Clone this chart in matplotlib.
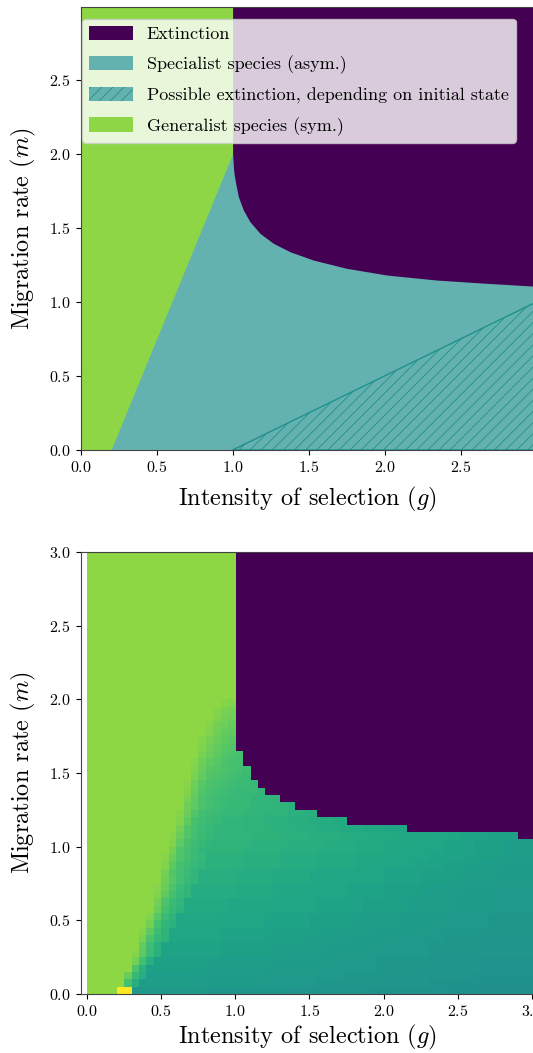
import numpy as np
import matplotlib
matplotlib.use("Agg")
import matplotlib.pyplot as plt
from matplotlib.patches import Patch

plt.rcParams['font.family'] = ['cmr10', 'DejaVu Serif']
plt.rcParams['mathtext.fontset'] = 'cm'
plt.rcParams['axes.unicode_minus'] = False
plt.rcParams['axes.formatter.use_mathtext'] = True
plt.rcParams['hatch.linewidth'] = 0.6

# ---------------- data: top panel (analytical regions) ----------------
gen_boundary_g = [0.2, 1.0]          # generalist / specialist border
gen_boundary_m = [0.0, 2.0]
ext_curve_g = [1.0, 1.005, 1.009, 1.020, 1.038, 1.071, 1.114, 1.180, 1.268,
               1.378, 1.531, 1.751, 2.014, 2.343, 2.672, 3.0]
ext_curve_m = [2.0, 1.912, 1.867, 1.800, 1.709, 1.619, 1.541, 1.462, 1.395,
               1.338, 1.282, 1.226, 1.181, 1.147, 1.125, 1.105]
bistable_g = [1.0, 3.0]               # possible extinction region
bistable_m = [0.0, 1.0]
legend_labels = ["Extinction", "Specialist species (asym.)",
                 "Possible extinction, depending on initial state",
                 "Generalist species (sym.)"]

# ---------------- data: bottom panel (simulation grid) ----------------
# cell size 0.05 x 0.05 over g,m in [0,3]; row 0 = m in [0,0.05]
# 'G' generalist, 'P' extinction, 'Y' max, other chars = specialist level
level_chars = "0123456789abcdefghijklmnopqrstuvwxy"
heat_rows = [
    "GGGGYY" + "5"*10 + "4"*11 + "3"*11 + "2"*11 + "1"*11,
    "G"*5 + "me" + "7"*8 + "6"*8 + "5"*8 + "4"*8 + "3"*7 + "2"*7 + "1"*7,
    "G"*5 + "sie" + "7"*9 + "6"*9 + "5"*9 + "4"*9 + "3"*8 + "2"*8,
    "G"*6 + "nf" + "8"*8 + "7"*8 + "6"*8 + "5"*7 + "4"*7 + "3"*7 + "2"*7,
    "G"*6 + "ule" + "8"*8 + "7"*8 + "6"*7 + "5"*7 + "4"*7 + "3"*7 + "2"*7,
    "G"*6 + "xqjf" + "9"*8 + "8"*7 + "7"*7 + "6"*7 + "5"*7 + "4"*7 + "3"*7,
    "G"*7 + "rkf" + "9"*8 + "8"*7 + "7"*7 + "6"*7 + "5"*7 + "4"*7 + "3"*7,
    "G"*7 + "vnig" + "a"*7 + "9"*6 + "8"*6 + "7"*6 + "6"*6 + "5"*6 + "4"*6 + "3"*6,
    "G"*7 + "xqkg" + "a"*7 + "9"*7 + "8"*7 + "7"*7 + "6"*7 + "5"*7 + "4"*7,
    "G"*8 + "umhf" + "b"*6 + "a"*6 + "9"*6 + "8"*6 + "7"*6 + "6"*6 + "5"*6 + "4"*6,
    "G"*8 + "wpjg" + "b"*6 + "a"*6 + "9"*6 + "8"*6 + "7"*6 + "6"*6 + "5"*6 + "4"*6,
    "G"*8 + "ysmig" + "c"*6 + "b"*6 + "a"*6 + "9"*6 + "8"*6 + "7"*6 + "6"*6 + "5"*5,
    "G"*9 + "unjh" + "c"*6 + "b"*6 + "a"*6 + "9"*6 + "8"*6 + "7"*6 + "6"*6 + "5"*5,
    "G"*9 + "wqlih" + "d"*6 + "c"*5 + "b"*5 + "a"*5 + "9"*5 + "8"*5 + "7"*5 + "6"*5 + "5"*5,
    "G"*9 + "xsnjh" + "d"*6 + "c"*5 + "b"*5 + "a"*5 + "9"*5 + "8"*5 + "7"*5 + "6"*5 + "5"*5,
    "G"*9 + "ytplih" + "e"*5 + "d"*5 + "c"*5 + "b"*5 + "a"*5 + "9"*5 + "8"*5 + "7"*5 + "6"*5,
    "G"*10 + "uoljh" + "e"*5 + "d"*5 + "c"*5 + "b"*5 + "a"*5 + "9"*5 + "8"*5 + "7"*5 + "6"*5,
    "G"*10 + "wqmkih" + "f"*5 + "e"*5 + "d"*5 + "c"*5 + "b"*4 + "a"*4 + "9"*4 + "8"*4 + "7"*4 + "6"*4,
    "G"*10 + "xsolji" + "f"*5 + "e"*5 + "d"*5 + "c"*5 + "b"*5 + "a"*5 + "9"*5 + "8"*5 + "7"*4,
    "G"*11 + "uoljh" + "g"*5 + "f"*5 + "e"*5 + "d"*5 + "c"*4 + "b"*4 + "a"*4 + "9"*4 + "8"*4 + "7"*4,
    "G"*11 + "wqmkih" + "g"*5 + "f"*5 + "e"*5 + "d"*4 + "c"*4 + "b"*4 + "a"*4 + "9"*4 + "8"*4 + "7"*4,
    "G"*11 + "xsolji" + "h"*5 + "g"*4 + "f"*4 + "e"*4 + "d"*4 + "c"*4 + "b"*4 + "a"*4 + "9"*4 + "8"*4 + "P"*2,
    "G"*12 + "uolji" + "h"*4 + "g"*4 + "f"*3 + "e"*3 + "d"*3 + "c"*3 + "b"*3 + "a"*3 + "P"*17,
    "G"*12 + "wqmkji" + "h"*3 + "g"*3 + "f"*3 + "e"*3 + "d"*3 + "c"*2 + "P"*25,
    "G"*12 + "xsolkji" + "ii" + "hhh" + "ggg" + "ff" + "ee" + "P"*29,
    "G"*12 + "ytqnlkj" + "iiihhhggf" + "P"*32,
    "G"*13 + "vrnlkj" + "iiihhhg" + "P"*34,
    "G"*13 + "wsomlkj" + "iiih" + "P"*36,
    "G"*13 + "xtpnmlkjji" + "P"*37,
    "G"*14 + "vronmlkj" + "P"*38,
    "G"*14 + "wsponmlk" + "P"*38,
    "G"*14 + "xtqpnml" + "P"*39,
    "G"*15 + "vsqonm" + "P"*39,
    "G"*15 + "wtrpo" + "P"*40,
    "G"*15 + "xusqp" + "P"*40,
    "G"*16 + "wtrq" + "P"*40,
    "G"*16 + "xutr" + "P"*40,
    "G"*17 + "wut" + "P"*40,
    "G"*17 + "xvu" + "P"*40,
    "G"*18 + "xw" + "P"*40,
] + ["G"*20 + "P"*40] * 20

# ---------------- colours ----------------
cmap = plt.cm.viridis
gen_value = 0.83
purple = cmap(0.0)
green = cmap(gen_value)
teal_dark = cmap(0.5)
teal_light = tuple(0.3 + 0.7 * c for c in teal_dark[:3])

fig = plt.figure(figsize=(5.33, 10.53), dpi=100)
W, H = 533.0, 1053.0
ax1 = fig.add_axes([80.6 / W, (H - 450) / H, 454.5 / W, 443 / H])
ax2 = fig.add_axes([80.6 / W, (H - 994) / H, 454.5 / W, 442 / H])

# ---------------- top panel ----------------
ax1.set_facecolor(teal_light)
gb_m = list(gen_boundary_m) + [3.0]
gb_g = list(gen_boundary_g) + [gen_boundary_g[-1]]
ax1.fill_betweenx(gb_m, 0, gb_g, color=green, linewidth=0)
ax1.fill_between(ext_curve_g, ext_curve_m, 3.0, color=purple, linewidth=0)
ax1.fill_between(bistable_g, 0, bistable_m, facecolor=teal_light,
                 edgecolor=teal_dark, hatch='///', linewidth=1.0)
ax1.set_xlim(0, 2.99)
ax1.set_ylim(0, 2.99)

handles = [Patch(facecolor=purple, edgecolor='none'),
           Patch(facecolor=teal_light, edgecolor='none'),
           Patch(facecolor=teal_light, edgecolor=teal_dark, hatch='///', linewidth=0),
           Patch(facecolor=green, edgecolor='none')]
ax1.legend(handles, legend_labels, loc='upper left',
           bbox_to_anchor=(0.003, 0.974), borderaxespad=0,
           fontsize=13.0, handlelength=2.4, handleheight=0.85,
           labelspacing=0.72, framealpha=0.8)

# ---------------- bottom panel ----------------
lookup = {'G': gen_value, 'P': 0.0, 'Y': 1.0}
for i, ch in enumerate(level_chars):
    lookup[ch] = 0.49 + 0.01 * i
grid = np.array([[lookup[c] for c in row] for row in heat_rows])
ax2.imshow(grid, origin='lower', extent=[0, 3, 0, 3], cmap='viridis',
           vmin=0, vmax=1, aspect='auto', interpolation='nearest')
ax2.set_xlim(-0.04, 3.02)
ax2.set_ylim(0, 3)

for ax, xpad in ((ax1, 7), (ax2, 3)):
    ax.set_xlabel(r'Intensity of selection $(g)$', fontsize=17.5, labelpad=xpad)
    ax.set_ylabel(r'Migration rate $(m)$', fontsize=17.5, labelpad=8)
    ax.tick_params(labelsize=11.5)
    for s in ax.spines.values():
        s.set_color('#444444')

fig.savefig('out.png', dpi=100)
